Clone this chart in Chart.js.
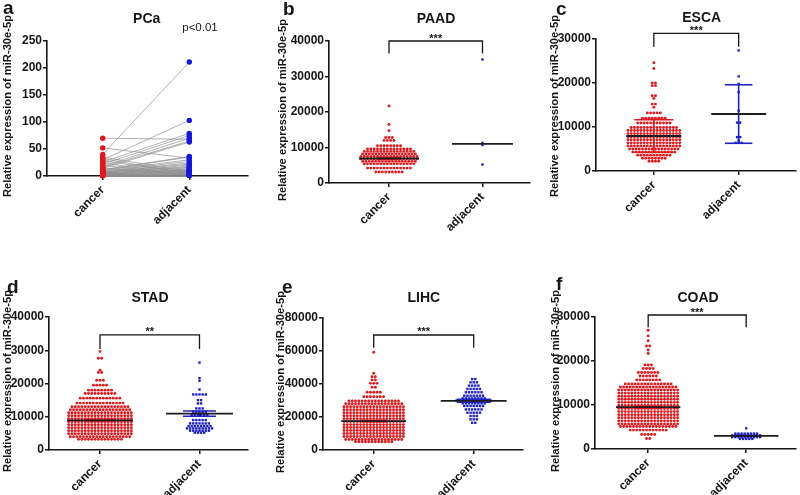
<!DOCTYPE html>
<html>
<head>
<meta charset="utf-8">
<script src="https://cdn.jsdelivr.net/npm/chart.js@4.4.0/dist/chart.umd.min.js"></script>
<style>
  body { margin: 0; background: #fff; }
  #wrap { position: relative; width: 800px; height: 495px; overflow: hidden; background: #fff; }
  #wrap canvas { position: absolute; }
</style>
</head>
<body>
<div id="wrap"></div>
<script>
// Categories
const groups = ['cancer', 'adjacent'];

// a: PCa paired samples (same index = same patient)
const pcaCancer   = [70, 52, 40, 30, 26, 22, 18, 16, 14, 12, 35, 32, 28, 24, 10, 9, 8, 7, 6, 5, 5, 4, 4, 3, 3, 2, 2, 1.5, 1, 1, 0.5, 20, 15, 11, 6, 3, 2, 1, 0.5, 8];
const pcaAdjacent = [68, 33, 211, 103, 79, 75, 70, 65, 63, 36, 8, 4, 6, 2, 30, 27, 24, 22, 20, 18, 15, 13, 11, 9, 8, 6, 5, 4, 3, 2, 1.5, 1, 2, 35, 12, 10, 7, 3, 1, 16];
const pcaYTicks = [0, 50, 100, 150, 200, 250];

// b: PAAD (dot rows: value level + number of dots on that row)
const paadCancerLevels = [21700, 16500, 14700, 12800, 12000, 10500, 9600, 8900, 8200, 7500, 6800, 6100, 5400, 4200, 3100];
const paadCancerCounts = [1, 1, 1, 3, 4, 8, 14, 16, 17, 18, 18, 17, 16, 14, 9];
const paadAdjLevels = [34800, 11300, 10700, 5200];
const paadAdjCounts = [1, 1, 1, 1];
const paadMeans = [6900, 11000];
const paadErrors = [250, 0];
const paadBracket = [36500, 40000, 36500];
const paadYTicks = [0, 10000, 20000, 30000, 40000];

// c: ESCA
const escaCancerLevels = [24600, 23300, 20000, 19400, 17100, 16500, 15200, 14500, 13200, 12000, 10900, 9900, 9200, 8500, 7800, 7100, 6400, 5700, 5000, 4300, 3600, 2900, 2200];
const escaCancerCounts = [1, 1, 2, 2, 2, 1, 2, 1, 5, 8, 11, 15, 17, 17, 17, 17, 17, 17, 16, 14, 11, 8, 4];
const escaAdjLevels = [27400, 21500, 19800, 17900, 13700, 11000, 7700, 6900, 6400];
const escaAdjCounts = [1, 1, 1, 1, 1, 2, 2, 1, 3];
const escaMeans = [7950, 12950];
const escaErrors = [3700, 6650];
const escaBracket = [28250, 31300, 28250];
const escaYTicks = [0, 10000, 20000, 30000];

// d: STAD
const stadCancerLevels = [29600, 27600, 24000, 23300, 21000, 19500, 18000, 17000, 15600, 14100, 13000, 12100, 11200, 10300, 9400, 8500, 7600, 6700, 5800, 4900, 4000, 3200];
const stadCancerCounts = [1, 2, 1, 2, 3, 5, 8, 10, 13, 15, 18, 19, 20, 20, 20, 20, 20, 20, 20, 20, 19, 14];
const stadAdjLevels = [26300, 21600, 20800, 18200, 16700, 15000, 14000, 12500, 11500, 10500, 9000, 8000, 7200, 6500, 5800, 5200];
const stadAdjCounts = [1, 1, 1, 1, 5, 2, 2, 3, 5, 6, 5, 7, 8, 9, 7, 4];
const stadMeans = [8900, 10950];
const stadErrors = [250, 800];
const stadBracket = [30400, 34600, 30400];
const stadYTicks = [0, 10000, 20000, 30000, 40000];

// e: LIHC
const lihcCancerLevels = [59200, 46500, 44400, 42400, 40400, 38000, 35000, 32300, 29700, 28000, 26200, 24400, 22600, 20800, 19000, 17200, 15400, 13600, 11800, 10000, 8200, 6400, 5000];
const lihcCancerCounts = [1, 1, 2, 2, 3, 2, 5, 7, 16, 18, 19, 19, 19, 19, 19, 19, 19, 19, 19, 19, 19, 18, 12];
const lihcAdjLevels = [43000, 41000, 39000, 37000, 35000, 32900, 31300, 29900, 28300, 26700, 24600, 22600, 20600, 18600, 16500];
const lihcAdjCounts = [2, 3, 4, 5, 6, 7, 8, 12, 8, 7, 6, 5, 3, 3, 2];
const lihcMeans = [17500, 29800];
const lihcErrors = [400, 900];
const lihcBracket = [62000, 69700, 62000];
const lihcYTicks = [0, 20000, 40000, 60000, 80000];

// f: COAD
const coadCancerLevels = [27000, 25700, 24600, 23400, 22500, 21700, 19100, 18300, 17400, 16600, 15700, 14800, 14100, 13400, 12700, 12000, 11300, 10600, 9900, 9200, 8500, 7800, 7100, 6400, 5700, 5100, 4300, 3300, 2400];
const coadCancerCounts = [1, 1, 1, 2, 1, 1, 3, 4, 7, 6, 8, 15, 18, 19, 19, 19, 19, 19, 19, 19, 19, 19, 19, 19, 19, 18, 12, 5, 2];
const coadAdjLevels = [4700, 3500, 3100, 2700, 2300];
const coadAdjCounts = [1, 8, 10, 10, 5];
const coadMeans = [9500, 3000];
const coadErrors = [230, 100];
const coadBracket = [27650, 30450, 27650];
const coadYTicks = [0, 10000, 20000, 30000];

const FONT = "'Liberation Sans', Arial, Helvetica, sans-serif";
const RED = '#e3191e';
const BLUE = '#1f22c4';
const INK = '#151515';
const X_H = 62;        // height reserved for the rotated x labels
const DOT_PITCH = 3.3; // px between dots in a row

// lay out one column of dot rows around a category
function swarm(levels, counts, cat, pitch) {
    const pts = [];
    levels.forEach((v, i) => {
        const n = counts[i];
        for (let k = 0; k < n; k++) {
            pts.push({ x: cat + (k - (n - 1) / 2) * pitch, y: v });
        }
    });
    return pts;
}

function segment(x1, y1, x2, y2, color, width, order) {
    return {
        data: [{ x: x1, y: y1 }, { x: x2, y: y2 }],
        showLine: true, borderColor: color, borderWidth: width,
        pointRadius: 0, order: order, clip: false
    };
}

function dotSet(points, color, style, radius) {
    return {
        data: points, showLine: false, pointStyle: style, pointRadius: radius,
        pointBackgroundColor: color, pointBorderWidth: 0, order: 3, clip: false
    };
}

function swarmDatasets(d, unit) {
    const pitch = DOT_PITCH / unit;
    const sets = [
        dotSet(swarm(d.cLevels, d.cCounts, 1, pitch), RED, 'circle', 1.45),
        dotSet(swarm(d.aLevels, d.aCounts, 2, pitch * 0.95), BLUE, 'rect', 1.7)
    ];
    const colors = [RED, BLUE];
    [1, 2].forEach((cat, i) => {
        const m = d.means[i], e = d.errors[i];
        if (e > 0) {
            const cw = d.capHalf[i] / unit;
            sets.push(segment(cat, m - e, cat, m + e, colors[i], 1.6, 2));
            sets.push(segment(cat - cw, m + e, cat + cw, m + e, colors[i], 1.6, 2));
            sets.push(segment(cat - cw, m - e, cat + cw, m - e, colors[i], 1.6, 2));
        }
        const mw = d.meanHalf[i] / unit;
        sets.push(segment(cat - mw, m, cat + mw, m, '#1c1c1c', 1.8, 1));
    });
    const b = d.bracket;
    sets.push({
        data: [{ x: 1, y: b[0] }, { x: 1, y: b[1] }, { x: 2, y: b[1] }, { x: 2, y: b[2] }],
        showLine: true, borderColor: INK, borderWidth: 1.3, pointRadius: 0, order: 0, clip: false
    });
    return sets;
}

function pairedDatasets() {
    const sets = [];
    pcaCancer.forEach((c, i) => {
        sets.push(segment(1, c, 2, pcaAdjacent[i], '#8f8f8f', 0.7, 4));
    });
    sets.push(dotSet(pcaCancer.map(v => ({ x: 1, y: v })), '#e8141c', 'circle', 2.7));
    sets.push(dotSet(pcaAdjacent.map(v => ({ x: 2, y: v })), '#1616e2', 'circle', 2.7));
    return sets;
}

// text that sits around each panel
const panelText = {
    id: 'panelText',
    afterDraw(chart, args, o) {
        const ctx = chart.ctx;
        const ox = o.origin[0], oy = o.origin[1];
        ctx.save();
        ctx.fillStyle = INK;
        ctx.textBaseline = 'alphabetic';
        ctx.textAlign = 'left';
        ctx.font = 'bold 19px ' + FONT;
        ctx.fillText(o.letter, o.letterAt[0] - ox, o.letterAt[1] - oy);
        ctx.textAlign = 'center';
        ctx.font = 'bold 14px ' + FONT;
        ctx.fillText(o.title, o.titleAt[0] - ox, o.titleAt[1] - oy);
        if (o.note) {
            ctx.font = '11.5px ' + FONT;
            ctx.fillText(o.note, o.noteAt[0] - ox, o.noteAt[1] - oy);
        }
        if (o.stars) {
            const xs = chart.scales.x, ys = chart.scales.y;
            const cx = (xs.getPixelForValue(1) + xs.getPixelForValue(2)) / 2;
            ctx.font = 'bold 11px ' + FONT;
            ctx.fillText(o.stars, cx, ys.getPixelForValue(o.starsAt) + 0.5);
        }
        ctx.translate(o.yTitleAt[0] - ox, o.yTitleAt[1] - oy);
        ctx.rotate(-Math.PI / 2);
        ctx.textBaseline = 'middle';
        ctx.font = 'bold 11.2px ' + FONT;
        ctx.fillText('Relative expression of miR-30e-5p', 0, 0);
        ctx.restore();
    }
};

const panels = [
    { letter: 'a', title: 'PCa', box: [0, 0, 260, 245], area: [47, 41, 248, 176], catPx: [102.7, 189.3], yW: 45.6,
      letterAt: [3, 14], titleAt: [146.7, 23], yTitleAt: [8, 106], note: 'p<0.01', noteAt: [200, 31],
      yTicks: pcaYTicks, build: () => pairedDatasets() },
    { letter: 'b', title: 'PAAD', box: [260, 0, 275, 245], area: [329, 41, 530, 183], catPx: [389, 482.5], yW: 53.1,
      letterAt: [283, 15], titleAt: [436, 23], yTitleAt: [282.5, 110], stars: '***', starsAt: paadBracket[1],
      yTicks: paadYTicks,
      build: u => swarmDatasets({ cLevels: paadCancerLevels, cCounts: paadCancerCounts, aLevels: paadAdjLevels, aCounts: paadAdjCounts,
          means: paadMeans, errors: paadErrors, bracket: paadBracket, meanHalf: [30, 30.5], capHalf: [12, 0] }, u) },
    { letter: 'c', title: 'ESCA', box: [530, 0, 270, 245], area: [596, 39, 800, 171], catPx: [655, 741.5], yW: 46,
      letterAt: [556, 15], titleAt: [701.7, 22], yTitleAt: [555.3, 106], stars: '***', starsAt: escaBracket[1],
      yTicks: escaYTicks,
      build: u => swarmDatasets({ cLevels: escaCancerLevels, cCounts: escaCancerCounts, aLevels: escaAdjLevels, aCounts: escaAdjCounts,
          means: escaMeans, errors: escaErrors, bracket: escaBracket, meanHalf: [28, 28], capHalf: [20, 14] }, u) },
    { letter: 'd', title: 'STAD', box: [0, 245, 260, 272], area: [49, 317, 248, 450], catPx: [100, 199.5], yW: 48.6,
      letterAt: [7, 293], titleAt: [150, 302], yTitleAt: [7.7, 381], stars: '**', starsAt: stadBracket[1],
      yTicks: stadYTicks,
      build: u => swarmDatasets({ cLevels: stadCancerLevels, cCounts: stadCancerCounts, aLevels: stadAdjLevels, aCounts: stadAdjCounts,
          means: stadMeans, errors: stadErrors, bracket: stadBracket, meanHalf: [33, 33.5], capHalf: [14, 16.5] }, u) },
    { letter: 'e', title: 'LIHC', box: [260, 245, 270, 272], area: [323, 318, 523, 450], catPx: [373.7, 473.7], yW: 48.6,
      letterAt: [282, 293], titleAt: [423.8, 302], yTitleAt: [281, 382], stars: '***', starsAt: lihcBracket[1],
      yTicks: lihcYTicks,
      build: u => swarmDatasets({ cLevels: lihcCancerLevels, cCounts: lihcCancerCounts, aLevels: lihcAdjLevels, aCounts: lihcAdjCounts,
          means: lihcMeans, errors: lihcErrors, bracket: lihcBracket, meanHalf: [32.5, 33], capHalf: [14, 17] }, u) },
    { letter: 'f', title: 'COAD', box: [530, 245, 270, 272], area: [595, 317, 798, 449], catPx: [648.7, 747.7], yW: 45.6,
      letterAt: [556, 290], titleAt: [698, 302], yTitleAt: [556, 381], stars: '***', starsAt: coadBracket[1],
      yTicks: coadYTicks,
      build: u => swarmDatasets({ cLevels: coadCancerLevels, cCounts: coadCancerCounts, aLevels: coadAdjLevels, aCounts: coadAdjCounts,
          means: coadMeans, errors: coadErrors, bracket: coadBracket, meanHalf: [32.5, 32.5], capHalf: [14, 12] }, u) }
];

function drawPanel(p) {
    const [bx, by, bw, bh] = p.box;
    const [L, T, R, B] = p.area;
    const unit = p.catPx[1] - p.catPx[0];
    const xMin = 1 - (p.catPx[0] - L) / unit;
    const xMax = 2 + (R - p.catPx[1]) / unit;

    const canvas = document.createElement('canvas');
    canvas.width = bw;
    canvas.height = bh;
    canvas.style.left = bx + 'px';
    canvas.style.top = by + 'px';
    canvas.style.width = bw + 'px';
    canvas.style.height = bh + 'px';
    document.getElementById('wrap').appendChild(canvas);

    const axisGrid = { drawOnChartArea: false, drawTicks: true, tickLength: 4, color: INK, lineWidth: 1.5 };
    const axisBorder = { color: INK, width: 1.6 };
    const tickFont = { family: FONT, size: 12, weight: 'bold' };

    new Chart(canvas, {
        type: 'scatter',
        data: { datasets: p.build(unit) },
        options: {
            responsive: false,
            animation: false,
            devicePixelRatio: 1,
            layout: { padding: { left: L - bx - p.yW, top: T - by, right: bx + bw - R, bottom: by + bh - B - X_H } },
            plugins: {
                legend: { display: false },
                tooltip: { enabled: false },
                panelText: {
                    origin: [bx, by], letter: p.letter, letterAt: p.letterAt, title: p.title, titleAt: p.titleAt,
                    yTitleAt: p.yTitleAt, note: p.note, noteAt: p.noteAt, stars: p.stars, starsAt: p.starsAt
                }
            },
            scales: {
                x: {
                    type: 'linear', min: xMin, max: xMax,
                    afterBuildTicks: s => { s.ticks = [{ value: 1 }, { value: 2 }]; },
                    afterFit: s => { s.height = X_H; },
                    grid: axisGrid, border: axisBorder,
                    ticks: {
                        autoSkip: false, minRotation: 45, maxRotation: 45, padding: 3,
                        color: INK, font: tickFont,
                        callback: v => groups[Math.round(v) - 1]
                    }
                },
                y: {
                    type: 'linear',
                    min: p.yTicks[0], max: p.yTicks[p.yTicks.length - 1],
                    afterBuildTicks: s => { s.ticks = p.yTicks.map(v => ({ value: v })); },
                    afterFit: s => { s.width = p.yW; },
                    grid: axisGrid, border: axisBorder,
                    ticks: { padding: 1, color: INK, font: tickFont, callback: v => String(v) }
                }
            }
        },
        plugins: [panelText]
    });
}

panels.forEach(drawPanel);
</script>
</body>
</html>
